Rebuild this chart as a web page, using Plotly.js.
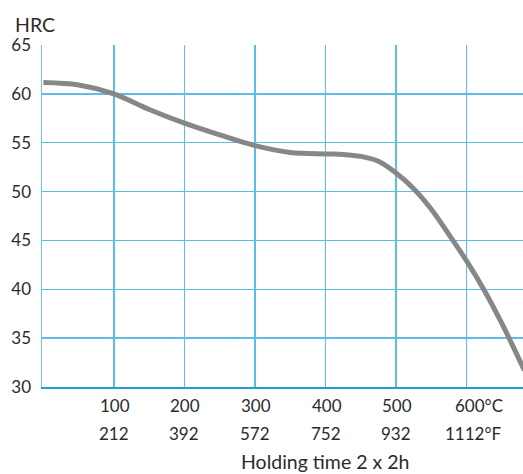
<!DOCTYPE html>
<html><head><meta charset="utf-8">
<script src="https://cdn.plot.ly/plotly-3.0.1.min.js"></script>
<style>html,body{margin:0;padding:0;background:#fff}#c{width:523px;height:474px}</style>
</head><body><div id="c"></div>
<script>
const tempC = [0, 50, 100, 150, 200, 250, 300, 350, 400, 425, 450, 475, 500, 525, 550, 575, 600, 625, 650, 682];
const hardness = [61.15, 60.9, 60.0, 58.4, 57.0, 55.8, 54.7, 54.0, 53.85, 53.8, 53.6, 53.1, 51.9, 50.3, 48.2, 45.6, 42.9, 39.9, 36.5, 31.7];
const xTicks = [100, 200, 300, 400, 500, 600];
const celsiusLabels = ["100", "200", "300", "400", "500", "600°C"];
const fahrenheitLabels = ["212", "392", "572", "752", "932", "1112°F"];
const yTicks = [30, 35, 40, 45, 50, 55, 60, 65];

const font = {family: "Lato, 'Open Sans', sans-serif", size: 17, color: "#2b2b2b"};
const titleFont = {family: "Lato, 'Open Sans', sans-serif", size: 19.5, color: "#2b2b2b"};
const annotations = [];
xTicks.forEach((v, i) => {
  const last = i === xTicks.length - 1;
  annotations.push({x: v, y: 0, xref: 'x', yref: 'paper', text: celsiusLabels[i], showarrow: false,
    xanchor: last ? 'left' : 'center', yanchor: 'middle', yshift: -18, xshift: last ? -14 : 1, font: font});
  annotations.push({x: v, y: 0, xref: 'x', yref: 'paper', text: fahrenheitLabels[i], showarrow: false,
    xanchor: last ? 'left' : 'center', yanchor: 'middle', yshift: -46, xshift: last ? -24 : 0, font: font});
});
annotations.push({x: 0, y: 1, xref: 'paper', yref: 'paper', text: 'HRC', showarrow: false,
  xanchor: 'left', yanchor: 'middle', xshift: -29, yshift: 21, font: titleFont});
annotations.push({x: 0.5, y: 0, xref: 'paper', yref: 'paper', text: 'Holding time 2 x 2h', showarrow: false,
  xanchor: 'center', yanchor: 'middle', xshift: 42, yshift: -74, font: titleFont});

const layout = {
  width: 523, height: 474,
  margin: {l: 42, r: 0, t: 45, b: 87},
  paper_bgcolor: '#fff', plot_bgcolor: '#fff',
  showlegend: false,
  font: font,
  xaxis: {range: [-2, 680], tickvals: xTicks, showticklabels: false, showgrid: true,
    gridcolor: '#5cbde8', gridwidth: 1.5, zeroline: false, showline: true, linecolor: '#1a9fdc', linewidth: 1.5,
    ticks: '', fixedrange: true},
  yaxis: {range: [30, 65], tickvals: yTicks, showgrid: true, gridcolor: '#5cbde8', gridwidth: 1.5,
    zeroline: false, showline: true, linecolor: '#6cc5ea', linewidth: 1.5, ticks: '', ticklabelstandoff: 6,
    tickfont: font, fixedrange: true},
  annotations: annotations
};

Plotly.newPlot('c', [{x: tempC, y: hardness, mode: 'lines', line: {color: '#878787', width: 5, shape: 'spline', smoothing: 1}, hoverinfo: 'skip'}], layout, {staticPlot: true});
</script></body></html>
